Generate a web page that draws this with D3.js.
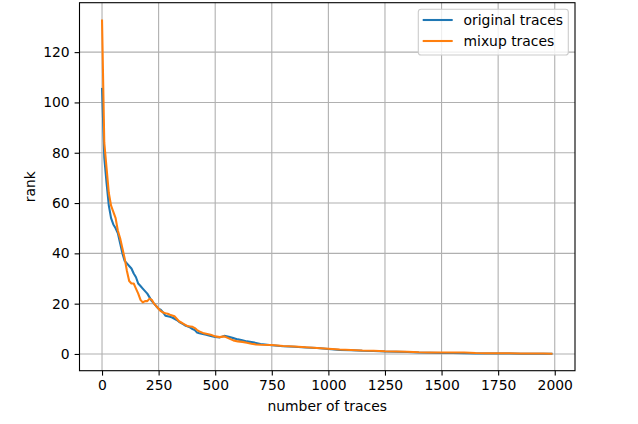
<!DOCTYPE html>
<html>
<head>
<meta charset="utf-8">
<script src="https://cdn.jsdelivr.net/npm/d3@7"></script>
<style>
  html, body { margin: 0; padding: 0; background: #fff; }
  svg { display: block; font-family: "DejaVu Sans", sans-serif; }
</style>
</head>
<body>
<svg id="chart" width="638" height="424"></svg>
<script>
const traces = [0,10,20,30,40,50,60,70,80,90,100,110,120,130,140,150,160,170,180,190,200,210,220,230,240,250,260,270,280,290,300,310,320,330,340,350,360,370,380,390,400,410,420,430,440,450,460,480,500,520,540,560,580,600,620,640,660,680,700,750,800,850,900,950,1000,1050,1100,1150,1200,1250,1300,1350,1400,1450,1500,1550,1600,1650,1700,1750,1800,1850,1900,1950,1990];
const originalRank = [105.8,78,68,59,54,51.5,50,48,44,40,37,36,35,34,32,30.5,28,27,26,25,24,22.5,21,20,19,18,17.5,16.5,15.2,15,14.8,14.5,14,13.5,12.8,12.3,11.8,11.2,10.9,10.5,9.9,9.5,8.5,8.2,8,7.8,7.6,7.2,6.8,6.6,7.2,6.8,6.3,5.8,5.4,5.0,4.7,4.4,4.0,3.5,3.1,2.9,2.6,2.4,2.0,1.6,1.5,1.3,1.2,1.0,0.9,0.8,0.6,0.5,0.4,0.4,0.3,0.2,0.2,0.2,0.2,0.1,0.1,0.1,0.1];
const mixupRank = [133,84,74,64,59,56.5,54,49,46,42,38,33,29,28,28,26,24,21.5,20.5,21,21,22,21.5,20,19,18,17,16.5,16.2,16,15.6,15.3,15,14,13,12.5,12,11.5,11,10.9,10.8,10.3,9.5,9,8.6,8.2,8,7.6,7,6.7,7.0,6.2,5.4,5.0,4.8,4.5,4.1,3.8,3.7,3.6,3.2,3.0,2.7,2.4,2.1,1.8,1.6,1.4,1.3,1.1,1.0,0.9,0.7,0.6,0.6,0.6,0.6,0.4,0.3,0.3,0.3,0.2,0.2,0.2,0.1];
const seriesNames = ["original traces", "mixup traces"];
const seriesColors = ["#1f77b4", "#ff7f0e"];
const xTicks = [0,250,500,750,1000,1250,1500,1750,2000];
const yTicks = [0,20,40,60,80,100,120];

const svg = d3.select("#chart");
const L = 79.5, R = 575, T = 2.7, B = 370.7;
const FS = "13.9px";

const allY = originalRank.concat(mixupRank);
const xExt = d3.extent(traces), yExt = [0, d3.max(allY)];
const xPad = (xExt[1]-xExt[0])*0.05, yPad = (yExt[1]-yExt[0])*0.05;
const x = d3.scaleLinear().domain([xExt[0]-xPad, xExt[1]+xPad]).range([L, R]);
const y = d3.scaleLinear().domain([yExt[0]-yPad, yExt[1]+yPad]).range([B, T]);

// grid
const g = svg.append("g");
g.selectAll("line.gx").data(xTicks).join("line")
  .attr("x1", d => x(d)).attr("x2", d => x(d)).attr("y1", T).attr("y2", B)
  .attr("stroke", "#b0b0b0").attr("stroke-width", 1.1);
g.selectAll("line.gy").data(yTicks).join("line")
  .attr("y1", d => y(d)).attr("y2", d => y(d)).attr("x1", L).attr("x2", R)
  .attr("stroke", "#b0b0b0").attr("stroke-width", 1.1);

// lines
const data = [originalRank, mixupRank];
const line = d3.line().x((d, i) => x(traces[i])).y(d => y(d));
svg.append("clipPath").attr("id", "clip").append("rect")
  .attr("x", L).attr("y", T).attr("width", R-L).attr("height", B-T);
svg.append("g").attr("clip-path", "url(#clip)").selectAll("path").data(data).join("path")
  .attr("d", d => line(d)).attr("fill", "none")
  .attr("stroke", (d, i) => seriesColors[i]).attr("stroke-width", 2.08)
  .attr("stroke-linejoin", "round").attr("stroke-linecap", "butt");

// axes
const xAxis = d3.axisBottom(x).tickValues(xTicks).tickSize(4.9).tickPadding(4.9).tickFormat(d3.format("d"));
const yAxis = d3.axisLeft(y).tickValues(yTicks).tickSize(4.9).tickPadding(4.9).tickFormat(d3.format("d"));
const gx = svg.append("g").attr("transform", `translate(0,${B})`).call(xAxis);
const gy = svg.append("g").attr("transform", `translate(${L},0)`).call(yAxis);
[gx, gy].forEach(a => {
  a.select(".domain").remove();
  a.selectAll(".tick line").attr("stroke", "#000").attr("stroke-width", 1.1);
  a.selectAll(".tick text").attr("fill", "#000").style("font-size", FS).style("font-family", "DejaVu Sans");
});

// spines
svg.append("rect").attr("x", L).attr("y", T).attr("width", R-L).attr("height", B-T)
  .attr("fill", "none").attr("stroke", "#000").attr("stroke-width", 1.1);

// axis labels
svg.append("text").attr("x", (L+R)/2).attr("y", 411).attr("text-anchor", "middle")
  .style("font-size", FS).text("number of traces");
svg.append("text").attr("transform", `translate(35,${(T+B)/2}) rotate(-90)`).attr("text-anchor", "middle")
  .style("font-size", FS).text("rank");

// legend
const lg = svg.append("g");
lg.append("rect").attr("x", 418.3).attr("y", 9.3).attr("width", 150).attr("height", 45.7)
  .attr("rx", 2.8).attr("fill", "#fff").attr("fill-opacity", 0.8)
  .attr("stroke", "#cccccc").attr("stroke-width", 1.1);
seriesNames.forEach((name, i) => {
  const yy = 20 + i*21;
  lg.append("line").attr("x1", 422.7).attr("x2", 452.7).attr("y1", yy).attr("y2", yy)
    .attr("stroke", seriesColors[i]).attr("stroke-width", 2.08);
  lg.append("text").attr("x", 463.5).attr("y", yy + 5).style("font-size", FS).text(name);
});
</script>
</body>
</html>
